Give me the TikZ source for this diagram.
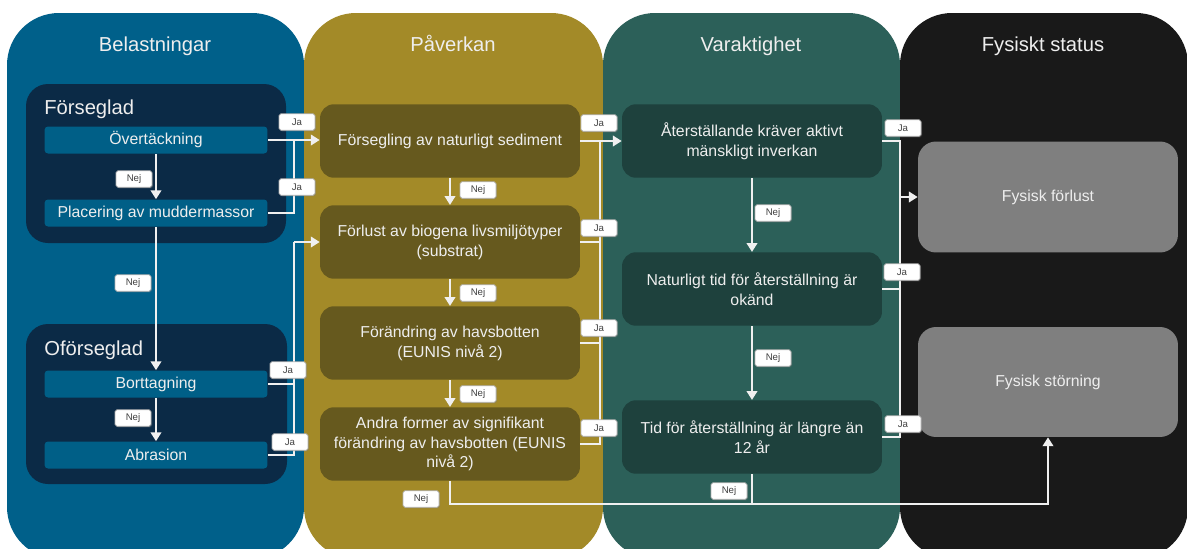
\documentclass[tikz,border=0pt]{standalone}
\usepackage{fontspec}
\setmainfont{Liberation Sans}
\usetikzlibrary{arrows.meta,shadows}
\definecolor{belblue}{RGB}{0,96,138}
\definecolor{navy}{RGB}{11,42,70}
\definecolor{belbox}{RGB}{0,95,135}
\definecolor{gold}{RGB}{163,138,40}
\definecolor{goldbox}{RGB}{102,89,30}
\definecolor{tealp}{RGB}{44,96,89}
\definecolor{tealbox}{RGB}{30,65,61}
\definecolor{blk}{RGB}{25,25,25}
\definecolor{greybox}{RGB}{127,127,127}
\definecolor{txt}{RGB}{238,238,238}
\definecolor{lineg}{RGB}{240,240,240}
\begin{document}
\begin{tikzpicture}[x=0.02cm, y=-0.02cm,
    head/.style={text=txt, inner sep=0pt, anchor=base, font=\fontsize{11.5}{14}\selectfont},
    smallbox/.style={fill=belbox, rounded corners=2pt, minimum width=4.46cm, minimum height=0.54cm,
        inner sep=0pt, text=txt, font=\fontsize{9}{11}\selectfont},
    box/.style={rounded corners=0.28cm, minimum width=5.2cm, minimum height=1.47cm, inner sep=0pt,
        text=txt, align=center, font=\fontsize{9}{11.3}\selectfont},
    conn/.style={draw=lineg, line width=1.1pt},
    flow/.style={conn, -{Triangle[width=6pt,length=5pt]}},
    lbl/.style={fill=white, draw=gray!60, rounded corners=1pt, minimum width=0.72cm, minimum height=0.33cm,
        inner sep=0pt, text=black!75, font=\fontsize{5.5}{6}\selectfont,
        drop shadow={shadow xshift=0.6pt, shadow yshift=-0.6pt, opacity=0.35}}]
    \clip (0,0) rectangle (1187,548);
    \fill[white] (0,0) rectangle (1187,548);
    % columns
    \fill[belblue, rounded corners=1.04cm] (7,13) rectangle (304,559);
    \fill[gold, rounded corners=1.04cm] (304,13) rectangle (603,559);
    \fill[tealp, rounded corners=1.04cm] (603,13) rectangle (900,559);
    \fill[blk, rounded corners=1.04cm] (900,13) rectangle (1188,559);
    \node[head] (hbel) at (155,51) {Belastningar};
    \node[head] (hpav) at (453,51) {Påverkan};
    \node[head] (hvar) at (751,51) {Varaktighet};
    \node[head] (hfys) at (1043,51) {Fysiskt status};
    % groups in Belastningar
    \fill[navy, rounded corners=0.44cm] (26,84) rectangle (286,243);
    \fill[navy, rounded corners=0.44cm] (26,324) rectangle (287,484);
    \node[head, anchor=base west] (gfor) at (44,114) {Förseglad};
    \node[head, anchor=base west] (gofor) at (44,355) {Oförseglad};
    \node[smallbox] (ovt) at (156,140) {Övertäckning};
    \node[smallbox] (plc) at (156,213) {Placering av muddermassor};
    \node[smallbox] (bor) at (156,384) {Borttagning};
    \node[smallbox] (abr) at (156,455) {Abrasion};
    % Påverkan
    \node[box, fill=goldbox] (pav1) at (450,141) {Försegling av naturligt sediment};
    \node[box, fill=goldbox] (pav2) at (450,242) {Förlust av biogena livsmiljötyper\\(substrat)};
    \node[box, fill=goldbox] (pav3) at (450,343) {Förändring av havsbotten\\(EUNIS nivå 2)};
    \node[box, fill=goldbox] (pav4) at (450,444) {Andra former av signifikant\\förändring av havsbotten (EUNIS\\nivå 2)};
    % Varaktighet
    \node[box, fill=tealbox] (var1) at (752,141) {Återställande kräver aktivt\\mänskligt inverkan};
    \node[box, fill=tealbox] (var2) at (752,289) {Naturligt tid för återställning är\\okänd};
    \node[box, fill=tealbox] (var3) at (752,437) {Tid för återställning är längre än\\12 år};
    % Fysiskt status
    \node[box, fill=greybox, minimum height=2.22cm, rounded corners=0.36cm] (flost) at (1048,197) {Fysisk förlust};
    \node[box, fill=greybox, minimum height=2.2cm, rounded corners=0.36cm] (fstor) at (1048,382) {Fysisk störning};
    % junctions
    \coordinate (jbel1) at (294,140);
    \coordinate (jbel2) at (294,242);
    \coordinate (jpav) at (600,141);
    \coordinate (jvar) at (900,197);
    \coordinate (jbot) at (752,504);
    % connectors
    \foreach \a/\b in {ovt/plc,plc/bor,bor/abr,pav1/pav2,pav2/pav3,pav3/pav4,var1/var2,var2/var3,pav1/var1}
        \draw[flow] (\a) -- (\b);
    \draw[flow] (ovt.east) -- (ovt.east -| pav1.west);
    \draw[conn] (plc.east) -| (jbel1);
    \draw[flow] (jbel2) -- (pav2.west);
    \foreach \n in {bor,abr}
        \draw[conn] (\n.east) -| (jbel2);
    \foreach \n in {pav2,pav3,pav4}
        \draw[conn] (\n.east) -| (jpav);
    \foreach \n in {var1,var2,var3}
        \draw[conn] (\n.east) -| (jvar);
    \draw[flow] (jvar) -- (flost.west);
    \draw[flow] (pav4.south) -- ++(0,23) -| (fstor.south);
    \draw[conn] (var3.south) -- (jbot);
    % Ja / Nej labels
    \foreach \x/\y [count=\i] in {297/122,297/187,288/370,290/442,599/123,599/228,599/328,599/428,903/128,902/272,903/424}
        \node[lbl] (ja\i) at (\x,\y) {Ja};
    \foreach \x/\y [count=\i] in {134/179,133/283,133/418,478/190,478/293,478/394,421/499,773/213,773/358,729/491}
        \node[lbl] (nej\i) at (\x,\y) {Nej};
\end{tikzpicture}
\end{document}
